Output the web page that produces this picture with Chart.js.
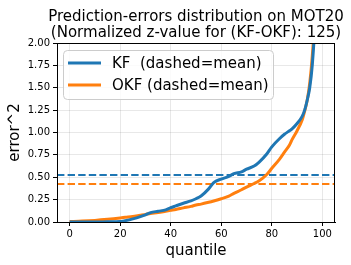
<!DOCTYPE html>
<html><head><meta charset="utf-8">
<script src="https://cdn.jsdelivr.net/npm/chart.js@4/dist/chart.umd.min.js"></script>
<style>html,body{margin:0;padding:0;background:#fff}#wrap{width:351px;height:265px}</style>
</head><body><div id="wrap"><canvas id="c" width="351" height="265"></canvas></div>
<script>
const titleLines = ["Prediction-errors distribution on MOT20", "(Normalized z-value for (KF-OKF): 125)"];
const xLabel = "quantile";
const yLabel = "error^2";
const seriesNames = ["KF  (dashed=mean)", "OKF (dashed=mean)"];
const quantiles = [0,5,10,15,20,22,25,28,30,32,35,38,40,42,45,48,50,52,55,57,60,63,65,68,70,73,75,78,80,83,85,87,88,90,92,93,94,95,96,97,98,99,100];
const kfErr = [0,0,0,0.002,0.005,0.015,0.035,0.06,0.08,0.105,0.12,0.135,0.16,0.18,0.21,0.235,0.26,0.29,0.37,0.44,0.48,0.51,0.54,0.56,0.59,0.625,0.67,0.76,0.84,0.93,0.98,1.02,1.04,1.1,1.18,1.25,1.36,1.5,1.75,2.2,3,5,10];
const okfErr = [0.005,0.01,0.018,0.03,0.045,0.052,0.062,0.075,0.085,0.095,0.105,0.12,0.13,0.14,0.158,0.175,0.19,0.2,0.22,0.235,0.26,0.29,0.32,0.36,0.39,0.43,0.46,0.53,0.6,0.7,0.78,0.86,0.92,1.02,1.14,1.24,1.36,1.55,1.85,2.3,3,5,10];
const kfMean = 0.525;
const okfMean = 0.425;
const xTicks = [0,20,40,60,80,100];
const yTicks = [0,0.25,0.5,0.75,1,1.25,1.5,1.75,2];

const BLUE = '#1f77b4', ORANGE = '#ff7f0e';
const FONT = "'DejaVu Sans'";

const pts = (ys) => quantiles.map((q,i)=>({x:q,y:ys[i]}));
const meanPts = (m) => [{x:-5,y:m},{x:105,y:m}];

const overlay = {
  id:'overlay',
  afterDraw(chart){
    const ctx = chart.ctx, a = chart.chartArea;
    ctx.save();
    ctx.strokeStyle = '#000'; ctx.lineWidth = 1;
    ctx.strokeRect(Math.round(a.left)+0.5, Math.round(a.top)+0.5, Math.round(a.right-a.left)-1, Math.round(a.bottom-a.top));
    ctx.fillStyle = '#000';
    ctx.font = "15px " + FONT;
    ctx.textAlign = 'center'; ctx.textBaseline = 'alphabetic';
    const cx = (a.left + a.right)/2;
    ctx.fillText(titleLines[0], cx, 21);
    ctx.fillText(titleLines[1], cx, 37);
    const lx = 63.5, ly = 50.5, lw = 210, lh = 49, r = 4;
    ctx.beginPath();
    ctx.moveTo(lx+r,ly); ctx.lineTo(lx+lw-r,ly); ctx.quadraticCurveTo(lx+lw,ly,lx+lw,ly+r);
    ctx.lineTo(lx+lw,ly+lh-r); ctx.quadraticCurveTo(lx+lw,ly+lh,lx+lw-r,ly+lh);
    ctx.lineTo(lx+r,ly+lh); ctx.quadraticCurveTo(lx,ly+lh,lx,ly+lh-r);
    ctx.lineTo(lx,ly+r); ctx.quadraticCurveTo(lx,ly,lx+r,ly); ctx.closePath();
    ctx.fillStyle = 'rgba(255,255,255,0.8)'; ctx.fill();
    ctx.strokeStyle = '#cccccc'; ctx.lineWidth = 1; ctx.stroke();
    const cols = [BLUE, ORANGE], ys = [63, 85];
    ctx.font = "15px " + FONT; ctx.textAlign = 'left'; ctx.textBaseline = 'middle';
    for (let i=0;i<2;i++){
      ctx.strokeStyle = cols[i]; ctx.lineWidth = 3;
      ctx.beginPath(); ctx.moveTo(68, ys[i]); ctx.lineTo(101, ys[i]); ctx.stroke();
      ctx.fillStyle = '#000';
      ctx.fillText(seriesNames[i], 112, ys[i]+1);
    }
    ctx.restore();
  }
};

new Chart(document.getElementById('c'), {
  type:'line',
  data:{datasets:[
    {label:seriesNames[0], data:pts(kfErr), borderColor:BLUE, borderWidth:3, pointRadius:0, cubicInterpolationMode:'monotone', fill:false},
    {label:seriesNames[1], data:pts(okfErr), borderColor:ORANGE, borderWidth:3, pointRadius:0, cubicInterpolationMode:'monotone', fill:false},
    {label:'KF mean', data:meanPts(kfMean), borderColor:BLUE, borderWidth:2, borderDash:[7.4,3.2], pointRadius:0, fill:false},
    {label:'OKF mean', data:meanPts(okfMean), borderColor:ORANGE, borderWidth:2, borderDash:[7.4,3.2], pointRadius:0, fill:false}
  ]},
  options:{
    responsive:false, animation:false,
    layout:{padding:{top:43, right:16, left:0, bottom:0}},
    plugins:{legend:{display:false}, title:{display:false}, tooltip:{enabled:false}},
    scales:{
      x:{type:'linear', min:-5, max:105,
        afterBuildTicks(s){ s.ticks = xTicks.map(v=>({value:v})); },
        afterFit(s){ s.height = 43; },
        ticks:{color:'#000', font:{family:FONT, size:10}, padding:2, maxRotation:0},
        grid:{color:'rgba(0,0,0,0.09)', borderDash:[2,2], tickColor:'#000', tickLength:4, tickBorderDash:[], lineWidth:1},
        border:{display:true, color:'#000'},
        title:{display:true, text:xLabel, color:'#000', font:{family:FONT, size:15}, padding:{top:0,bottom:5}}
      },
      y:{type:'linear', min:0, max:2,
        afterBuildTicks(s){ s.ticks = yTicks.map(v=>({value:v})); },
        afterFit(s){ s.width = 57; },
        ticks:{color:'#000', font:{family:FONT, size:10}, padding:3, callback:(v)=>Number(v).toFixed(2)},
        grid:{color:'rgba(0,0,0,0.09)', borderDash:[2,2], tickColor:'#000', tickLength:4, tickBorderDash:[], lineWidth:1},
        border:{display:true, color:'#000'},
        title:{display:true, text:yLabel, color:'#000', font:{family:FONT, size:15}, padding:{top:6,bottom:0}}
      }
    }
  },
  plugins:[overlay]
});
</script></body></html>
